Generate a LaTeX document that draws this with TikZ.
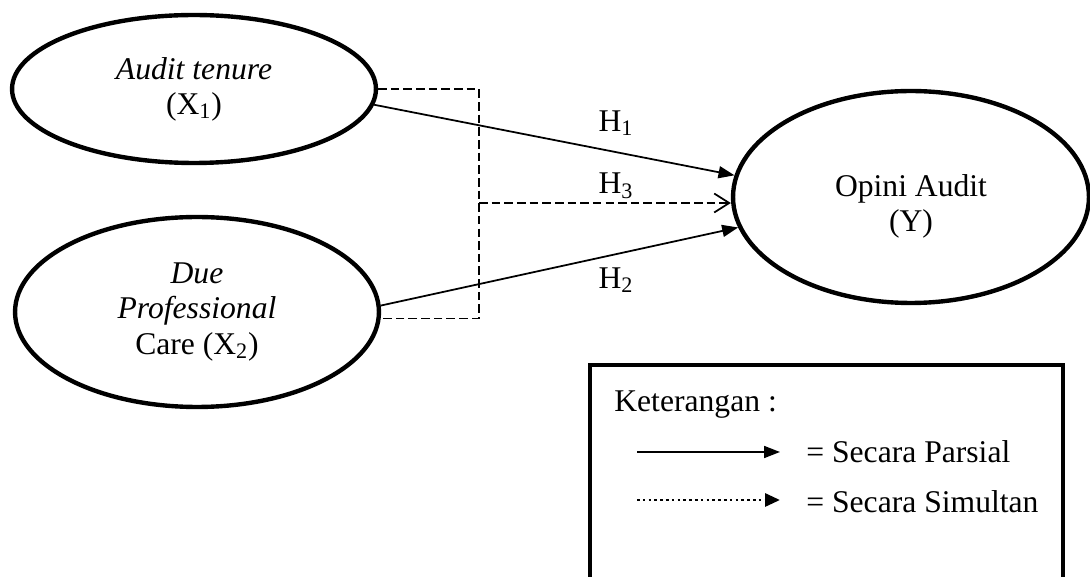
\documentclass[tikz,border=0pt]{standalone}
\usepackage{fontspec}
\setmainfont{Liberation Serif}
\usetikzlibrary{shapes.geometric,arrows.meta}
\begin{document}
\begin{tikzpicture}[x=0.02cm,y=-0.02cm]
    \tikzset{var ellipse/.style={draw,ellipse,line width=2.5pt,minimum width=#1,inner sep=0pt,
        font=\fontsize{18pt}{20pt}\selectfont,align=center},
      txt/.style={font=\fontsize{18pt}{20pt}\selectfont,align=center,inner sep=0pt},
      parsial/.style={line width=1pt,-{Triangle[length=0.32cm,width=0.24cm]}},
      simultan/.style={line width=1pt,dash pattern=on 4.9pt off 2.3pt}}
    \useasboundingbox (0,0) rectangle (1090,577);

    \node [var ellipse=7.28cm,minimum height=2.96cm] (X1) at (194,89) {\textit{Audit tenure}\\(X\textsubscript{1})};
    \node [var ellipse=7.28cm,minimum height=3.8cm] (X2) at (197,312) {\textit{Due}\\\textit{Professional}\\Care (X\textsubscript{2})};
    \node [var ellipse=7.12cm,minimum height=4.24cm] (Y) at (911,197) {};
    \node [txt] at ([yshift=-9*0.02cm]Y.center) (Y-label) {Opini Audit\\(Y)};

    \draw [parsial] (X1.-5.7) -- (Y.173.5);
    \draw [parsial] (X2.2.8) -- (Y.-170.2);

    \coordinate (junc) at (479,203);
    \draw [simultan] (X1.east) -| (junc) |- (X2.-2.5);
    \draw [simultan,-{Straight Barb[length=0.3cm,width=0.38cm]}] (junc) -- (junc -| Y.west);

    \node [txt] at (616,123) (H1) {H\textsubscript{1}};
    \node [txt] at (616,186) (H3) {H\textsubscript{3}};
    \node [txt] at (616,280) (H2) {H\textsubscript{2}};

    % keterangan
    \draw [line width=2.5pt] (590,365) rectangle (1063,600);
    \node [txt,anchor=base west] at (614,412) (ket) {Keterangan :};
    \coordinate (sp-a) at (637,452);
    \coordinate (sp-b) at (780,452);
    \coordinate (ss-a) at (637,500);
    \coordinate (ss-b) at (780,500);
    \draw [parsial] (sp-a) -- (sp-b);
    \draw [line width=1.7pt,dash pattern=on 1.5pt off 1.8pt,-{Triangle[length=0.3cm,width=0.26cm]}] (ss-a) -- (ss-b);
    \node [txt,anchor=base west] at (806,463) (sp-text) {= Secara Parsial};
    \node [txt,anchor=base west] at (806,513) (ss-text) {= Secara Simultan};
\end{tikzpicture}
\end{document}
